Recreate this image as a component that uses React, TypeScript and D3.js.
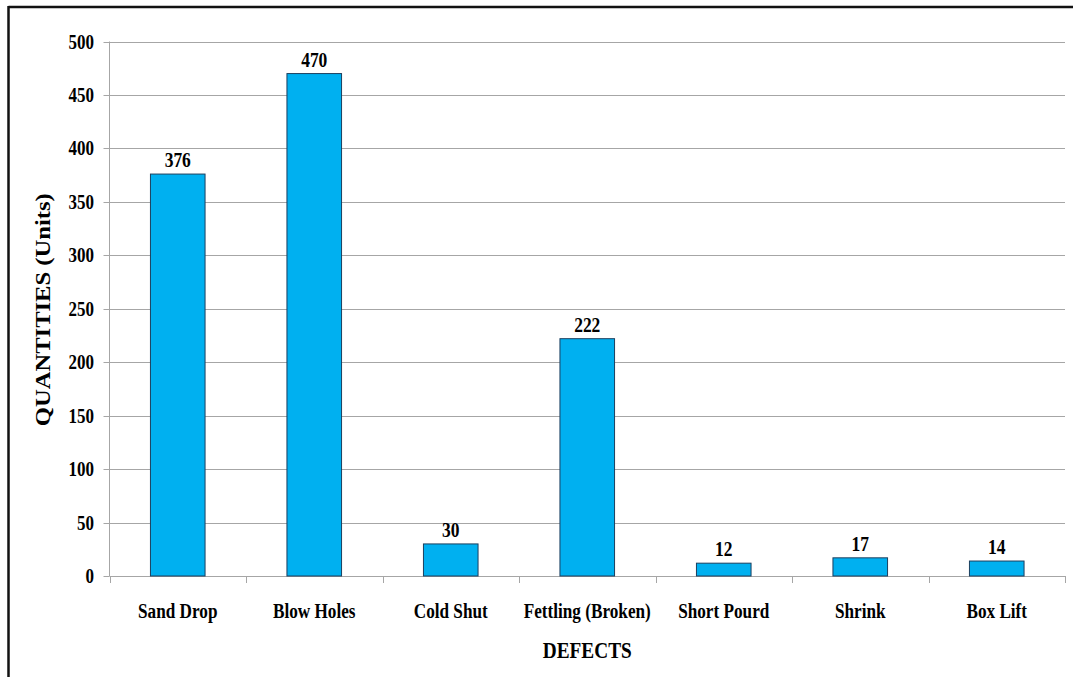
import React from "react";
import * as d3 from "d3";

const categories = [
  "Sand Drop",
  "Blow Holes",
  "Cold Shut",
  "Fettling (Broken)",
  "Short Pourd",
  "Shrink",
  "Box Lift",
];
const quantities = [376, 470, 30, 222, 12, 17, 14];
const yTicks = [0, 50, 100, 150, 200, 250, 300, 350, 400, 450, 500];

const W = 1073;
const H = 677;
const plot = { left: 109.5, right: 1065, top: 41.5, bottom: 576 };
const FONT = '"Liberation Serif", "Times New Roman", Times, serif';
const textStyle: React.CSSProperties = { fontFamily: FONT, fontWeight: 700 };
// glyphs are drawn slightly taller than wide
const STRETCH = 1.2;

type LabelProps = {
  x: number;
  y: number;
  size: number;
  anchor?: "start" | "middle" | "end";
  rotate?: boolean;
  children: React.ReactNode;
};

function Label({ x, y, size, anchor = "middle", rotate = false, children }: LabelProps) {
  const t = rotate
    ? `translate(${x},${y}) rotate(-90) scale(${STRETCH},1)`
    : `translate(${x},${y}) scale(1,${STRETCH})`;
  return (
    <text transform={t} textAnchor={anchor} fontSize={size} fill="#000" style={textStyle}>
      {children}
    </text>
  );
}

export default function App() {
  const x = d3
    .scaleBand<string>()
    .domain(categories)
    .range([plot.left, plot.right])
    .paddingInner(0.6)
    .paddingOuter(0.3);
  const band = d3.scaleBand<string>().domain(categories).range([plot.left, plot.right]);
  const y = d3.scaleLinear().domain([0, 500]).range([plot.bottom, plot.top]);

  const boundaries = categories.map((c) => band(c) as number).concat([plot.right]);

  return (
    <div style={{ position: "absolute", left: 0, top: 0, width: W, height: H, background: "#fff" }}>
      <svg width={W} height={H} style={{ display: "block" }}>
        <rect x={0} y={0} width={W} height={H} fill="#fff" />
        {/* frame */}
        <line x1={8.5} y1={7} x2={W} y2={7} stroke="#111" strokeWidth={2.5} />
        <line x1={8.5} y1={6} x2={8.5} y2={H} stroke="#111" strokeWidth={2.5} />

        {/* horizontal gridlines and y ticks */}
        {yTicks.map((t) => {
          const ty = Math.round(y(t)) + 0.5;
          return (
            <g key={t}>
              {t > 0 && (
                <line x1={plot.left} x2={plot.right} y1={ty} y2={ty} stroke="#a6a6a6" strokeWidth={1} />
              )}
              <line x1={plot.left - 6} x2={plot.left} y1={ty} y2={ty} stroke="#a6a6a6" />
              <Label x={94} y={y(t) + 7} size={17} anchor="end">
                {t}
              </Label>
            </g>
          );
        })}

        {/* axes */}
        <line x1={plot.left} x2={plot.left} y1={plot.top} y2={plot.bottom} stroke="#a6a6a6" />
        <line x1={plot.left} x2={plot.right} y1={plot.bottom + 0.5} y2={plot.bottom + 0.5} stroke="#a6a6a6" />
        {boundaries.map((bx, i) => (
          <line
            key={i}
            x1={Math.round(bx) + 0.5}
            x2={Math.round(bx) + 0.5}
            y1={plot.bottom}
            y2={plot.bottom + 7}
            stroke="#a6a6a6"
          />
        ))}

        {/* bars */}
        {categories.map((c, i) => {
          const v = quantities[i];
          const bx = x(c) as number;
          return (
            <g key={c}>
              <rect
                x={bx}
                y={y(v)}
                width={x.bandwidth()}
                height={plot.bottom - y(v)}
                fill="#00b0f0"
                stroke="#1c3f5e"
                strokeWidth={1}
              />
              <Label x={bx + x.bandwidth() / 2} y={y(v) - 7} size={17.5}>
                {v}
              </Label>
              <Label x={(band(c) as number) + band.bandwidth() / 2} y={618} size={17.2}>
                {c}
              </Label>
            </g>
          );
        })}

        {/* axis titles */}
        <Label x={(plot.left + plot.right) / 2} y={658} size={19.3}>
          DEFECTS
        </Label>
        <Label x={50} y={(plot.top + plot.bottom) / 2 + 1} size={20.5} rotate>
          QUANTITIES (Units)
        </Label>
      </svg>
    </div>
  );
}
